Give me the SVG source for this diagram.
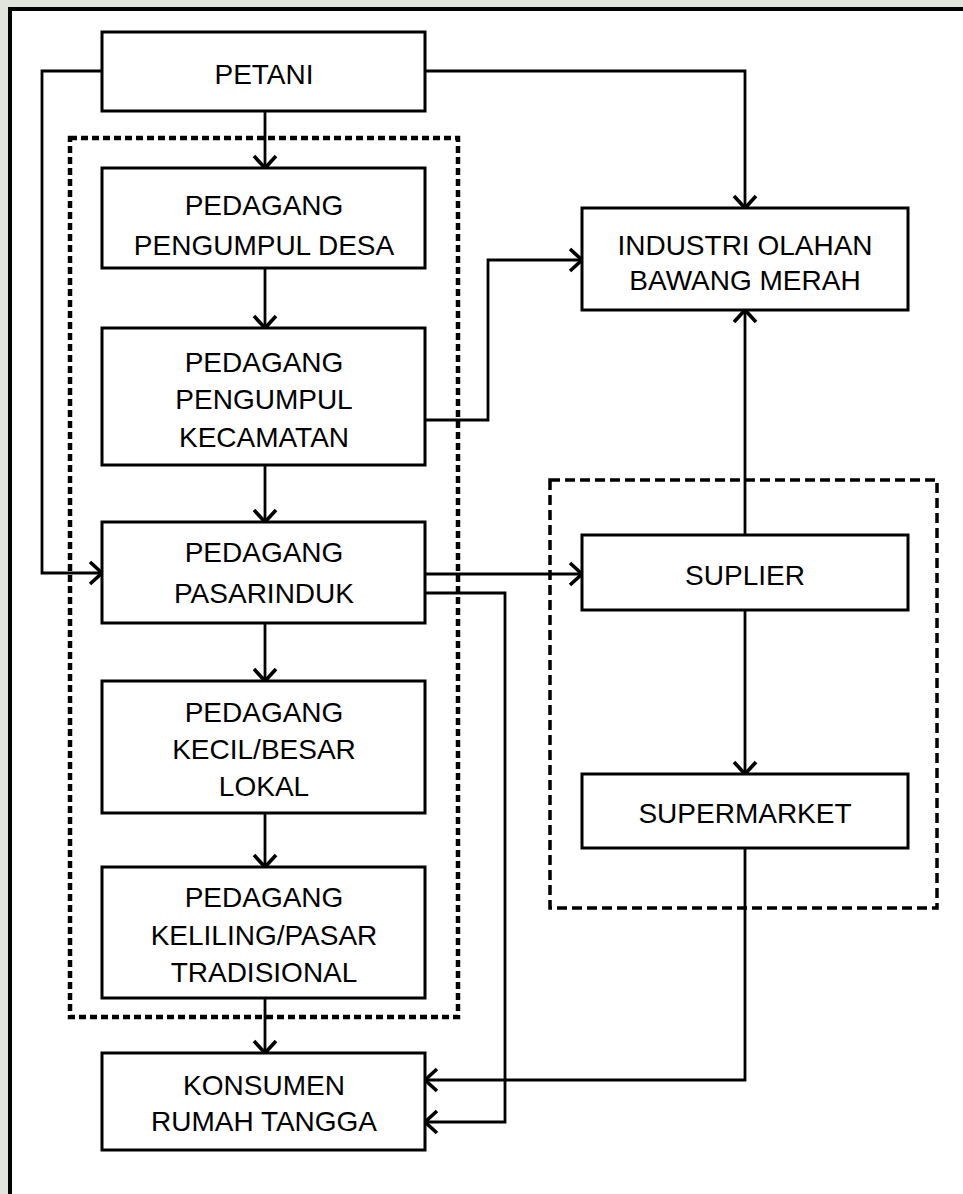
<svg xmlns="http://www.w3.org/2000/svg" width="963" height="1194" viewBox="0 0 963 1194">
<style>
.box{fill:#fff;stroke:#000;stroke-width:3}
.grp{fill:none;stroke:#000}
.g1{stroke-width:4.5;stroke-dasharray:7 4}
.g2{stroke-width:3.5;stroke-dasharray:10 5}
.lbl{font-family:"Liberation Sans",Arial,sans-serif;font-size:28px;fill:#000;text-anchor:middle}
.con path{fill:none;stroke:#000;stroke-width:2.8;marker-end:url(#arr)}
</style>
<defs>
<marker id="arr" markerUnits="userSpaceOnUse" viewBox="-16 -16 32 32" markerWidth="32" markerHeight="32" refX="0" refY="0" orient="auto" overflow="visible">
<path d="M-12,-11 L0,0 L-12,11" fill="none" stroke="#000" stroke-width="3.6"/>
</marker>
</defs>
<rect x="0" y="0" width="963" height="1194" fill="#e1e4dd"/>
<rect x="10" y="9" width="980" height="1200" fill="#fff" stroke="#000" stroke-width="4"/>

<g id="group-tradisional"><rect class="grp g1" x="70" y="138" width="388" height="879"/></g>
<g id="group-modern"><rect class="grp g2" x="550" y="480" width="387" height="428"/></g>

<g class="con" id="connectors">
<path d="M265,111 V168"/>
<path d="M265,268 V328"/>
<path d="M265,465 V522"/>
<path d="M265,623 V681"/>
<path d="M265,813 V867"/>
<path d="M265,998 V1053"/>
<path d="M102,71 H42 V573 H102"/>
<path d="M425,71 H745 V208"/>
<path d="M425,420 H488 V260 H582"/>
<path d="M425,574 H582"/>
<path d="M425,593 H505 V1122 H425"/>
<path d="M745,535 V310"/>
<path d="M745,610 V774"/>
<path d="M745,848 V1080 H425"/>
</g>

<g id="petani"><rect class="box" x="102" y="32" width="323" height="79"/><text class="lbl" x="264" y="84">PETANI</text></g>
<g id="pengumpul-desa"><rect class="box" x="102" y="168" width="323" height="100"/><text class="lbl" x="264" y="215">PEDAGANG</text><text class="lbl" x="264" y="255">PENGUMPUL DESA</text></g>
<g id="pengumpul-kecamatan"><rect class="box" x="102" y="328" width="323" height="137"/><text class="lbl" x="264" y="372">PEDAGANG</text><text class="lbl" x="264" y="409">PENGUMPUL</text><text class="lbl" x="264" y="447">KECAMATAN</text></g>
<g id="pasar-induk"><rect class="box" x="102" y="522" width="323" height="101"/><text class="lbl" x="264" y="562">PEDAGANG</text><text class="lbl" x="264" y="603">PASARINDUK</text></g>
<g id="kecil-besar"><rect class="box" x="102" y="681" width="323" height="132"/><text class="lbl" x="264" y="722">PEDAGANG</text><text class="lbl" x="264" y="759">KECIL/BESAR</text><text class="lbl" x="264" y="796">LOKAL</text></g>
<g id="keliling"><rect class="box" x="102" y="867" width="323" height="131"/><text class="lbl" x="264" y="907">PEDAGANG</text><text class="lbl" x="264" y="945">KELILING/PASAR</text><text class="lbl" x="264" y="982">TRADISIONAL</text></g>
<g id="konsumen"><rect class="box" x="102" y="1053" width="323" height="97"/><text class="lbl" x="264" y="1095">KONSUMEN</text><text class="lbl" x="264" y="1131">RUMAH TANGGA</text></g>
<g id="industri"><rect class="box" x="582" y="208" width="326" height="102"/><text class="lbl" x="745" y="255">INDUSTRI OLAHAN</text><text class="lbl" x="745" y="290">BAWANG MERAH</text></g>
<g id="suplier"><rect class="box" x="582" y="535" width="326" height="75"/><text class="lbl" x="745" y="585">SUPLIER</text></g>
<g id="supermarket"><rect class="box" x="582" y="774" width="326" height="74"/><text class="lbl" x="745" y="823">SUPERMARKET</text></g>
</svg>
